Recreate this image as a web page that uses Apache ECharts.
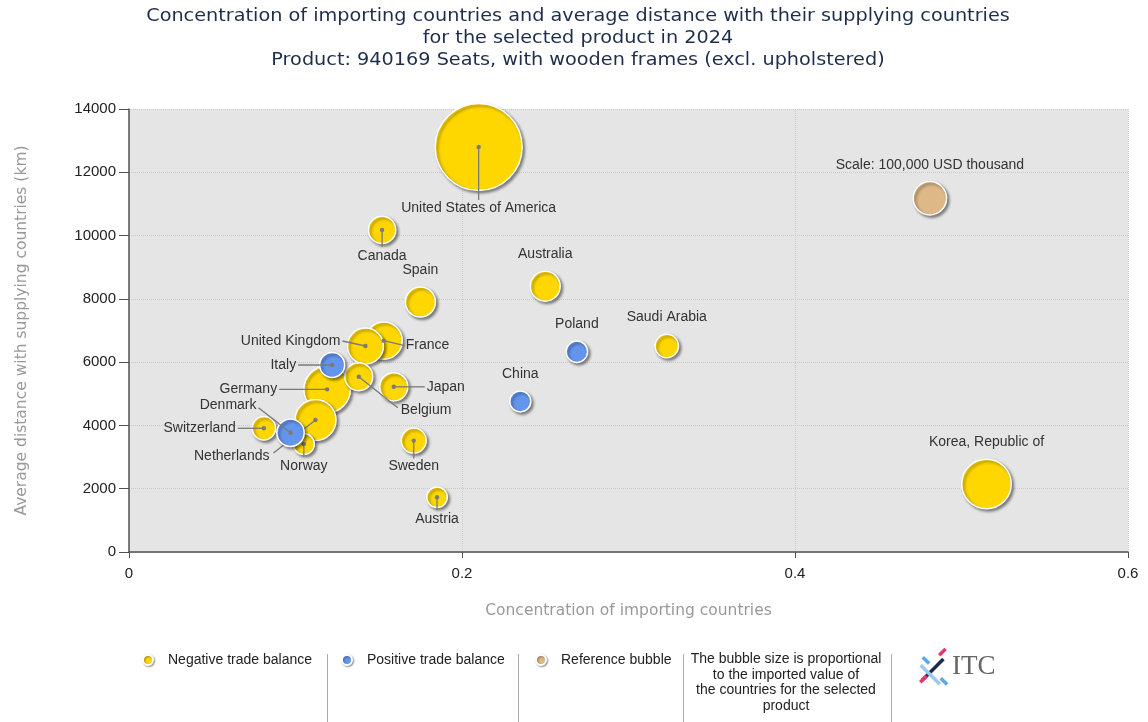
<!DOCTYPE html>
<html>
<head>
<meta charset="utf-8">
<script src="https://cdn.jsdelivr.net/npm/echarts@6/dist/echarts.min.js"></script>
<style>
  html, body { margin: 0; padding: 0; background: #fff; }
  #chart { width: 1148px; height: 722px; }
</style>
</head>
<body>
<div id="chart"></div>
<script>
  // 数据
  const countries = ['United States of America', 'Korea, Republic of', 'Germany', 'Netherlands', 'France',
    'United Kingdom', 'Spain', 'Australia', 'Japan', 'Belgium', 'Canada', 'Denmark', 'Italy', 'Sweden',
    'Saudi Arabia', 'Switzerland', 'Poland', 'China', 'Norway', 'Austria']
  const concentration = [0.210, 0.515, 0.119, 0.112, 0.153, 0.142, 0.175, 0.250, 0.159, 0.138, 0.152,
    0.097, 0.122, 0.171, 0.323, 0.081, 0.269, 0.235, 0.105, 0.185]
  const distance = [12800, 2150, 5140, 4170, 6680, 6510, 7900, 8400, 5220, 5540, 10180,
    3770, 5910, 3520, 6510, 3910, 6330, 4760, 3410, 1730]
  // imported value, USD thousand
  const importValue = [678000, 220000, 195000, 151000, 123000, 116000, 81000, 80000, 71000, 70000, 67000,
    67000, 56000, 56000, 49000, 49000, 41000, 39500, 39500, 38000]
  const balance = ['neg', 'neg', 'neg', 'neg', 'neg', 'neg', 'neg', 'neg', 'neg', 'neg', 'neg',
    'pos', 'pos', 'neg', 'neg', 'neg', 'pos', 'pos', 'neg', 'neg']

  const refName = 'Scale: 100,000 USD thousand'
  const refConcentration = 0.481
  const refDistance = 11180
  const refValue = 100000

  const xMin = 0, xMax = 0.6, xStep = 0.2
  const yMin = 0, yMax = 14000, yStep = 2000

  const titleLines = [
    'Concentration of importing countries and average distance with their supplying countries',
    'for the selected product in 2024',
    'Product: 940169 Seats, with wooden frames (excl. upholstered)'
  ]
  const noteLines = ['The bubble size is proportional', 'to the imported value of', 'the countries for the selected', 'product']

  // 引线标签的位置 (像素偏移)
  const leaders = {
    'United States of America': { line: [0, 53], text: [0, 61], align: 'center' },
    'Canada': { line: [0, 17], text: [0, 26], align: 'center' },
    'United Kingdom': { line: [-23, -5], text: [-25, -5], align: 'right' },
    'France': { line: [21, 5], text: [22, 5], align: 'left' },
    'Italy': { line: [-34, 0], text: [-36, 0], align: 'right' },
    'Germany': { line: [-48, 0], text: [-50, 0], align: 'right' },
    'Belgium': { line: [39, 31], text: [42, 33], align: 'left' },
    'Japan': { line: [31, 0], text: [33, 0], align: 'left' },
    'Denmark': { line: [-32, -25], text: [-34, -28], align: 'right' },
    'Switzerland': { line: [-26, 0], text: [-28, 0], align: 'right' },
    'Netherlands': { line: [-42, 33], text: [-46, 36], align: 'right' },
    'Norway': { line: [0, 13], text: [0, 22], align: 'center' },
    'Sweden': { line: [0, 18], text: [0, 26], align: 'center' },
    'Austria': { line: [0, 13], text: [0, 22], align: 'center' }
  }

  const FONT = '"Liberation Sans", Arial, sans-serif'
  const FONT2 = '"DejaVu Sans", Verdana, sans-serif'
  const LABEL_COLOR = '#333'

  const bubbleSize = v => 33.4 * Math.sqrt(v / refValue)

  function items(type) {
    return countries.map((c, i) => ({
      name: c,
      value: [concentration[i], distance[i], importValue[i]],
      label: { show: !leaders[c] },
      type: balance[i]
    })).filter(d => d.type === type).map(d => ({ name: d.name, value: d.value, label: d.label }))
  }

  const bubbleStyle = color => ({
    color: color,
    borderColor: '#fff',
    borderWidth: 1.5,
    shadowColor: 'rgba(0, 0, 0, 0.45)',
    shadowBlur: 3,
    shadowOffsetX: 2,
    shadowOffsetY: 2,
    opacity: 1
  })

  const topLabel = {
    position: 'top',
    distance: 9,
    formatter: '{b}',
    color: LABEL_COLOR,
    fontSize: 14,
    fontFamily: FONT
  }

  // 引线 + 中心点 + 文字
  function leaderSeries(type, z) {
    const idx = countries.map((c, i) => i).filter(i => leaders[countries[i]] && balance[i] === type)
    return {
      name: 'leaders-' + type, type: 'custom', silent: true, z: z,
      data: idx.map(i => [concentration[i], distance[i]]),
      renderItem: (params, api) => {
        const name = countries[idx[params.dataIndex]]
        const L = leaders[name]
        const p = api.coord([api.value(0), api.value(1)])
        return {
          type: 'group',
          children: [
            { type: 'line', shape: { x1: p[0], y1: p[1], x2: p[0] + L.line[0], y2: p[1] + L.line[1] }, style: { stroke: '#7a7a7a', lineWidth: 1.3 } },
            { type: 'circle', shape: { cx: p[0], cy: p[1], r: 2.2 }, style: { fill: '#7a7a7a' } },
            {
              type: 'text', x: p[0] + L.text[0], y: p[1] + L.text[1],
              style: { text: name, align: L.align, verticalAlign: 'middle', fill: LABEL_COLOR, font: '14px ' + FONT }
            }
          ]
        }
      }
    }
  }

  const legendBase = {
    icon: 'circle',
    itemWidth: 10,
    itemHeight: 10,
    top: 648,
    selectedMode: false,
    itemStyle: { shadowColor: 'rgba(0,0,0,0.4)', shadowBlur: 2, shadowOffsetX: 1, shadowOffsetY: 1 },
    textStyle: { color: '#222', fontSize: 14, fontFamily: FONT, padding: [0, 0, 0, 10] }
  }

  const myChart = echarts.init(document.getElementById('chart'))
  myChart.setOption({
    animation: false,
    legend: [
      Object.assign({ data: ['Negative trade balance'], left: 137 }, legendBase),
      Object.assign({ data: ['Positive trade balance'], left: 336 }, legendBase),
      Object.assign({ data: ['Reference bubble'], left: 530 }, legendBase)
    ],
    grid: {
      left: 129, right: 20, top: 109, bottom: 170,
      show: true, backgroundColor: '#e5e5e5', borderWidth: 0
    },
    xAxis: {
      type: 'value',
      min: xMin, max: xMax, interval: xStep,
      name: 'Concentration of importing countries',
      nameLocation: 'middle',
      nameGap: 51,
      nameTextStyle: { color: '#999', fontSize: 15.5, fontFamily: FONT2 },
      axisLine: { show: true, onZero: false, lineStyle: { color: '#505050', width: 1.5 } },
      axisTick: { show: true, length: 6, lineStyle: { color: '#505050' } },
      axisLabel: { color: '#222', fontSize: 15, fontFamily: FONT, margin: 14 },
      splitLine: { show: true, lineStyle: { color: '#cacaca', type: 'dotted' } }
    },
    yAxis: {
      type: 'value',
      min: yMin, max: yMax, interval: yStep,
      name: 'Average distance with supplying countries (km)',
      nameLocation: 'middle',
      nameGap: 99,
      nameTextStyle: { color: '#999', fontSize: 15.5, fontFamily: FONT2 },
      axisLine: { show: true, onZero: false, lineStyle: { color: '#505050', width: 1.5 } },
      axisTick: { show: true, length: 10, lineStyle: { color: '#505050' } },
      axisLabel: { color: '#222', fontSize: 15, fontFamily: FONT, margin: 13, formatter: v => String(v) },
      splitLine: { show: true, lineStyle: { color: '#cacaca', type: 'dotted' } }
    },
    graphic: [
      {
        type: 'text', x: 578, y: 5, scaleX: 1.1, originX: 0,
        style: {
          text: titleLines.join('\n'), align: 'center', verticalAlign: 'top',
          fill: '#1e2d4a', font: '17.5px ' + FONT2, lineHeight: 22
        }
      },
      { type: 'line', shape: { x1: 327.5, y1: 654, x2: 327.5, y2: 722 }, style: { stroke: '#aaa', lineWidth: 1 } },
      { type: 'line', shape: { x1: 518.5, y1: 654, x2: 518.5, y2: 722 }, style: { stroke: '#aaa', lineWidth: 1 } },
      { type: 'line', shape: { x1: 683.5, y1: 654, x2: 683.5, y2: 722 }, style: { stroke: '#aaa', lineWidth: 1 } },
      { type: 'line', shape: { x1: 891.5, y1: 654, x2: 891.5, y2: 722 }, style: { stroke: '#aaa', lineWidth: 1 } },
      {
        type: 'text', x: 786, y: 651,
        style: { text: noteLines.join('\n'), align: 'center', fill: '#222', font: '14px ' + FONT, lineHeight: 15.8 }
      },
      // ITC logo
      { type: 'rect', x: 924, y: 656, rotation: -Math.PI / 4, shape: { x: 0, y: 0, width: 9, height: 3.5 }, style: { fill: '#5aa9e6' } },
      { type: 'rect', x: 938, y: 654, rotation: Math.PI / 4, shape: { x: 0, y: 0, width: 9, height: 3.5 }, style: { fill: '#e8336b' } },
      { type: 'rect', x: 921, y: 679, rotation: Math.PI / 4, shape: { x: 0, y: 0, width: 30, height: 3.5 }, style: { fill: '#1d2c4e' } },
      { type: 'rect', x: 922, y: 664, rotation: -Math.PI / 4, shape: { x: 0, y: 0, width: 27, height: 3.5 }, style: { fill: '#9cc8ee' } },
      { type: 'rect', x: 919, y: 681, rotation: Math.PI / 4, shape: { x: 0, y: 0, width: 9, height: 3.5 }, style: { fill: '#e8336b' } },
      { type: 'rect', x: 942, y: 677, rotation: -Math.PI / 4, shape: { x: 0, y: 0, width: 9, height: 3.5 }, style: { fill: '#5aa9e6' } },
      {
        type: 'text', x: 952, y: 667,
        style: { text: 'ITC', fill: '#666', font: '27px "Liberation Serif", serif', verticalAlign: 'middle' }
      }
    ],
    series: [
      {
        name: 'Negative trade balance', type: 'scatter', z: 2,
        data: items('neg'),
        symbolSize: d => bubbleSize(d[2]),
        itemStyle: bubbleStyle('#FFD700'),
        label: topLabel,
        emphasis: { disabled: true }
      },
      leaderSeries('neg', 3),
      {
        name: 'Positive trade balance', type: 'scatter', z: 4,
        data: items('pos'),
        symbolSize: d => bubbleSize(d[2]),
        itemStyle: bubbleStyle('#6495ED'),
        label: topLabel,
        emphasis: { disabled: true }
      },
      leaderSeries('pos', 5),
      {
        name: 'Reference bubble', type: 'scatter', z: 6,
        data: [{ name: refName, value: [refConcentration, refDistance, refValue], label: { show: true } }],
        symbolSize: d => bubbleSize(d[2]),
        itemStyle: bubbleStyle('#DEB887'),
        label: topLabel,
        emphasis: { disabled: true }
      }
    ]
  })
</script>
</body>
</html>
